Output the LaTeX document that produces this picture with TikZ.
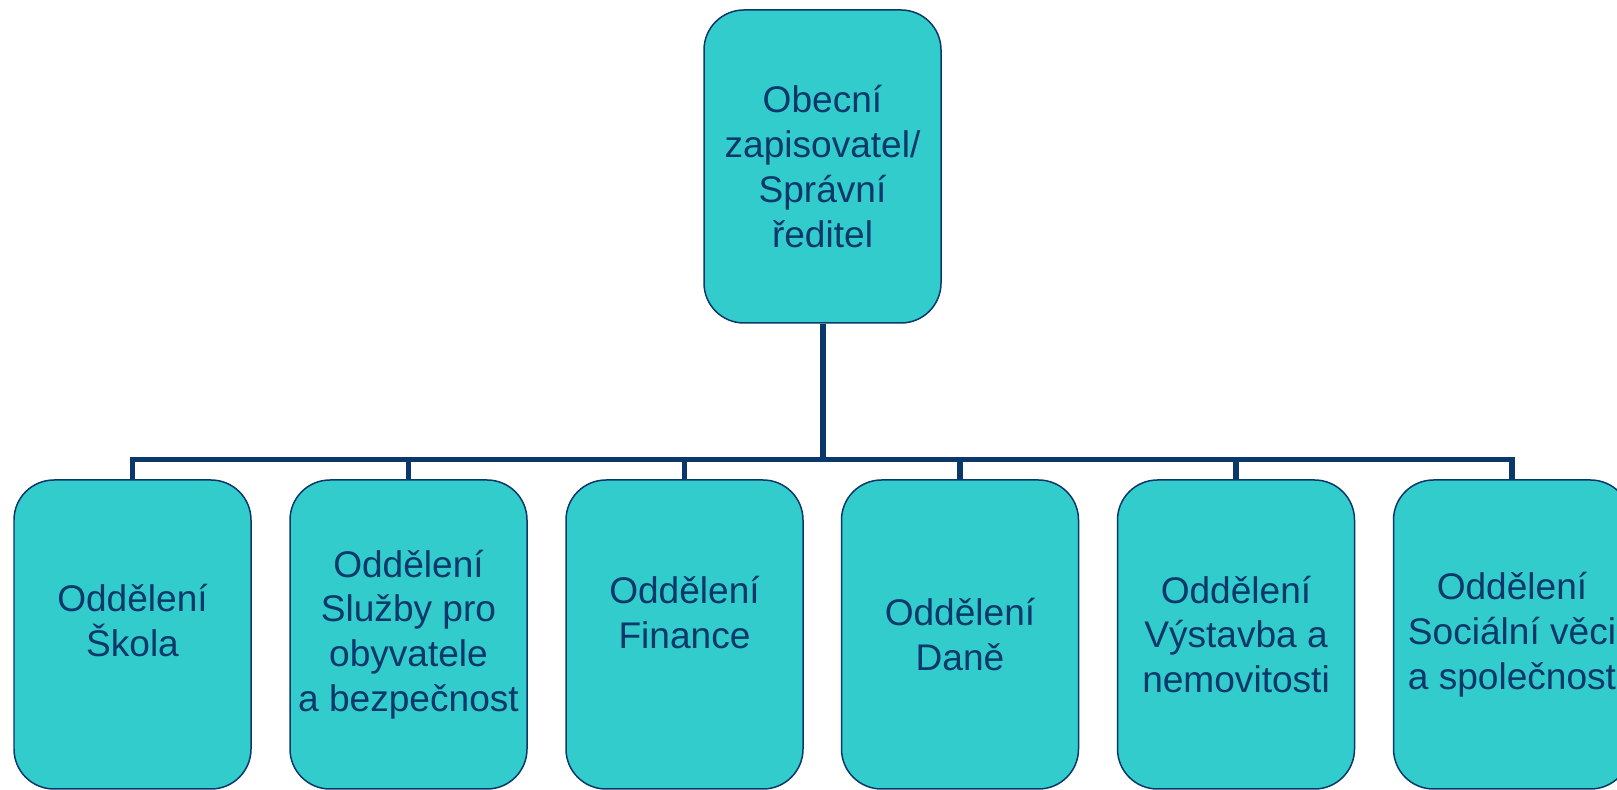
\documentclass[tikz,border=0pt]{standalone}
\usepackage{fontspec}
\setmainfont{Liberation Sans}
\usetikzlibrary{positioning}

\definecolor{boxfill}{RGB}{51,204,204}
\definecolor{navy}{RGB}{10,56,106}

\tikzset{
  unit/.style={draw=navy, fill=boxfill, line width=0.85pt, rounded corners=0.8cm,
    minimum width=4.74cm, minimum height=6.18cm, inner sep=0pt,
    align=center, text=navy, font=\fontsize{21.1}{25.5}\selectfont},
  link/.style={draw=navy, line width=3.4pt}
}

\begin{document}
\begin{tikzpicture}
		\useasboundingbox (0,0) rectangle (32.34,15.8);

		\node[unit, minimum height=6.26cm] (zapis) at (16.45,12.47) {Obecní\\zapisovatel/\\Správní\\ředitel};

		\node[unit] (skola) at (2.65,3.11) {Oddělení\\Škola\\[-9pt]\mbox{}};
		\node[unit] (sluzby) at (8.17,3.11) {Oddělení\\Služby pro\\obyvatele\\a bezpečnost};
		\node[unit] (finance) at (13.69,3.11) {Oddělení\\Finance\\\mbox{}};
		\node[unit] (dane) at (19.20,3.11) {Oddělení\\Daně};
		\node[unit] (vystavba) at (24.72,3.11) {Oddělení\\Výstavba a\\nemovitosti};
		\node[unit] (socialni) at (30.24,3.11) {Oddělení\\Sociální věci\\a společnost};

		\coordinate (bar) at (16.45,6.61);

		\draw[link] (zapis) -- (zapis |- bar);
		\draw[link] (skola) -- (skola |- bar) -- (socialni |- bar) -- (socialni);
		\foreach \n in {sluzby, finance, dane, vystavba}
			\draw[link] (bar -| \n) -- (\n);
\end{tikzpicture}
\end{document}
